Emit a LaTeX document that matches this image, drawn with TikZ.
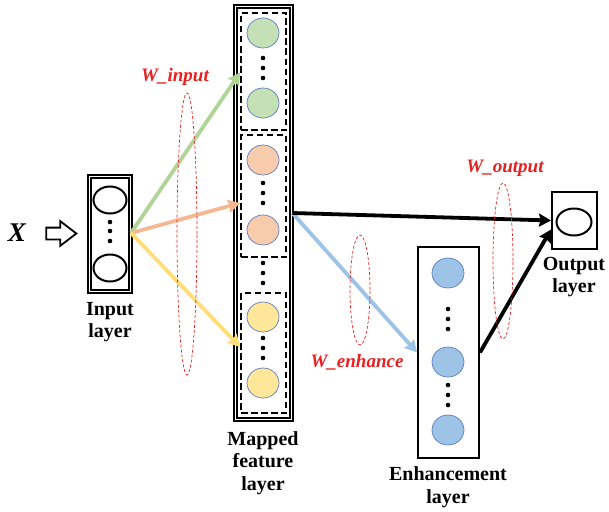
\documentclass[tikz,border=0pt]{standalone}
\usepackage{fontspec}
\setmainfont{Liberation Serif}
\usetikzlibrary{shapes.geometric,shapes.arrows,arrows.meta}
\definecolor{cgreen}{RGB}{197,224,180}
\definecolor{corange}{RGB}{248,203,173}
\definecolor{cyellow}{RGB}{255,230,153}
\definecolor{cblue}{RGB}{157,195,230}
\definecolor{agreen}{RGB}{176,212,150}
\definecolor{aorange}{RGB}{245,184,145}
\definecolor{ayellow}{RGB}{255,222,120}
\definecolor{ablue}{RGB}{157,195,230}
\definecolor{cedge}{RGB}{90,125,190}
\definecolor{wred}{RGB}{232,32,32}
\tikzset{
  dblbox/.style={draw, line width=1.8pt, double, double distance=1.2pt, inner sep=0pt},
  onebox/.style={draw, line width=2pt, inner sep=0pt},
  grpbox/.style={draw, line width=1.7pt, dash pattern=on 6.5pt off 3.5pt, inner sep=0pt},
  neuron/.style={ellipse, draw=cedge, line width=0.7pt, minimum width=32pt, minimum height=30pt, inner sep=0pt},
  hollow/.style={ellipse, draw, line width=2pt, minimum width=33pt, minimum height=27pt, inner sep=0pt},
  wlink/.style={line width=3.8pt, -{Stealth[length=12pt,width=13pt,inset=1.5pt]}},
  wzone/.style={wred, densely dashed, line width=0.7pt},
  wlabel/.style={text=wred, font=\fontsize{19}{22}\selectfont\bfseries\itshape},
  caption/.style={align=center, inner sep=0pt, font=\fontsize{20}{22.5}\selectfont\bfseries}
}

\begin{document}
\begin{tikzpicture}[x=1pt,y=-1pt]
\useasboundingbox (0,0) rectangle (609,511);

\node[font=\fontsize{27}{30}\selectfont\bfseries\itshape] (x) at (17,233) {X};
\node[single arrow, draw, line width=1.8pt, minimum height=30pt, inner sep=5pt, single arrow head extend=6.5pt, single arrow tip angle=75] (xarrow) at (57.5,233.5) {};

\node[dblbox, minimum width=41pt, minimum height=115pt] (input) at (110,234) {};
\node[hollow] (in1) at (110,200) {};
\node[hollow] (in2) at (110,268) {};
\foreach \y in {222,231,241} \fill (110,\y) circle (2.3pt);
\node[caption] (inputcap) at (110,322) {Input\\layer};

\node[dblbox, minimum width=56pt, minimum height=413pt] (mapped) at (263.5,213) {};
\node[grpbox, minimum width=45pt, minimum height=117pt] (grpA) at (263.5,71.5) {};
\node[grpbox, minimum width=45pt, minimum height=122pt] (grpB) at (263.5,196) {};
\node[grpbox, minimum width=45pt, minimum height=120pt] (grpC) at (263.5,353) {};
\node[neuron, fill=cgreen] (m1) at (263,33) {};
\node[neuron, fill=cgreen] (m2) at (263,103) {};
\node[neuron, fill=corange] (m3) at (263,160) {};
\node[neuron, fill=corange] (m4) at (263,230) {};
\node[neuron, fill=cyellow] (m5) at (263,317) {};
\node[neuron, fill=cyellow] (m6) at (263,383) {};
\foreach \y in {58,68,78,183,193,203,263,273,283,338,348,358} \fill (263,\y) circle (2.3pt);
\node[caption] (mappedcap) at (263,463) {Mapped\\feature\\layer};

\node[onebox, minimum width=61pt, minimum height=211pt] (enh) at (448.5,352.5) {};
\node[neuron, fill=cblue] (e1) at (448,273) {};
\node[neuron, fill=cblue] (e2) at (448,362) {};
\node[neuron, fill=cblue] (e3) at (448,430) {};
\foreach \y in {309,319,329,385,395,405} \fill (448,\y) circle (2.3pt);
\node[caption] (enhcap) at (448,487) {Enhancement\\layer};

\node[onebox, minimum width=45pt, minimum height=57pt] (output) at (574.5,220.5) {};
\node[hollow, minimum width=35pt] (out1) at (574,222) {};
\node[caption] (outputcap) at (574,277) {Output\\layer};

\coordinate (fan) at (131,233);
\coordinate (outin) at ([yshift=-9pt]output.west);
\draw[wlink, agreen] (fan) -- ([yshift=-1pt]grpA.west);
\draw[wlink, aorange] (fan) -- ([yshift=-7pt]grpB.west);
\draw[wlink, ayellow] (fan) -- ([yshift=6pt]grpC.west);
\draw[wlink, ablue] (mapped.east) -- (enh.west);
\draw[wlink, black] (mapped.east) -- (output.west);
\draw[wlink, black] (enh.east) -- (outin);

\draw[wzone] (187,234) ellipse [x radius=10pt, y radius=141pt];
\draw[wzone] (360,290) ellipse [x radius=10pt, y radius=55pt];
\draw[wzone] (503,261) ellipse [x radius=10pt, y radius=78pt];
\node[wlabel] (winput) at (175,77) {W\_input};
\node[wlabel] (wenhance) at (357,362) {W\_enhance};
\node[wlabel] (woutput) at (505,168) {W\_output};
\end{tikzpicture}
\end{document}
